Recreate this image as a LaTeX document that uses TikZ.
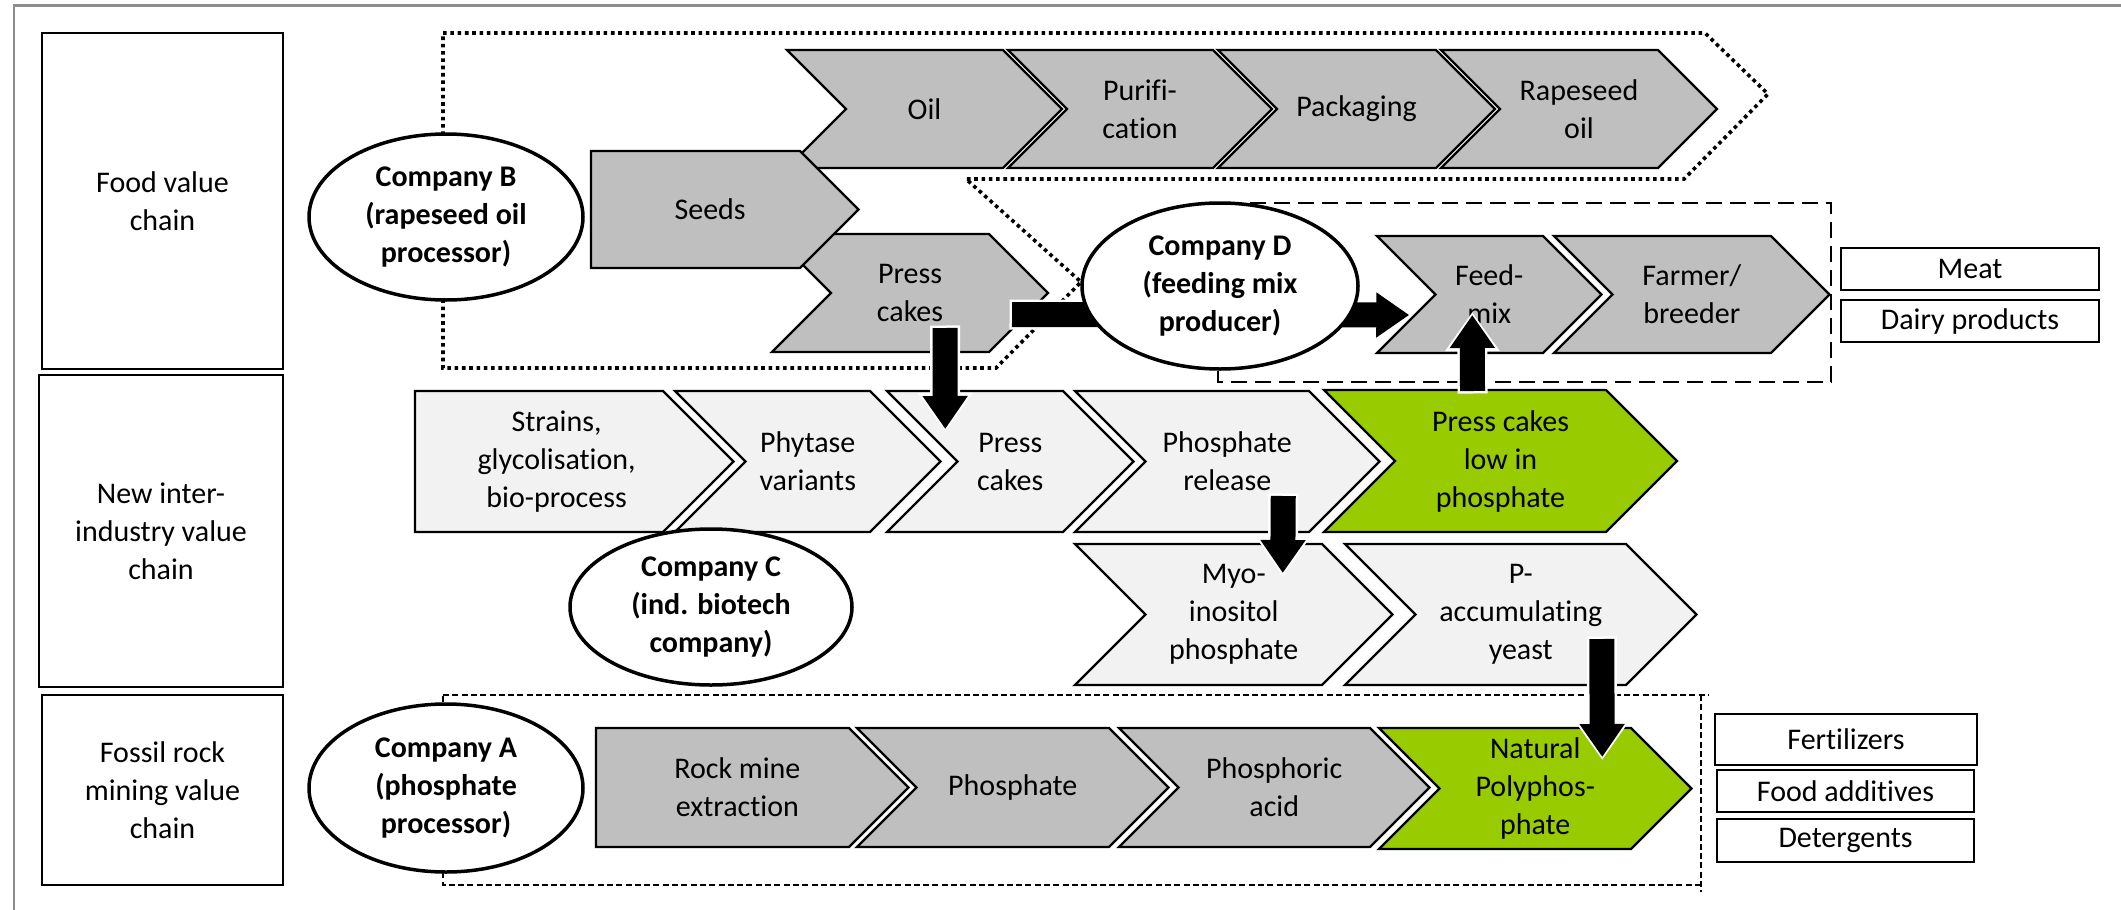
\documentclass[tikz,border=0pt]{standalone}
\usepackage{fontspec}
\setmainfont{Carlito}[Ligatures=NoCommon]
\usetikzlibrary{arrows.meta,calc,shapes.geometric}

\definecolor{stagedark}{HTML}{BFBFBF}
\definecolor{stagelight}{HTML}{F2F2F2}
\definecolor{stagegreen}{HTML}{99CC00}
\definecolor{framegray}{HTML}{8C8C8C}

% One stage of a value chain: a chevron with its label.
% #1 node name, #2 style, #3 left x, #4 top y, #5 right end of the top edge,
% #6 height, #7 1 = notched tail / 0 = flat tail, #8 label
\newcommand{\valuestage}[8]{%
  \pgfmathsetmacro{\vsTip}{#5+#6/2}%
  \pgfmathsetmacro{\vsMid}{#4+#6/2}%
  \pgfmathsetmacro{\vsBot}{#4+#6}%
  \pgfmathsetmacro{\vsNotch}{#3+#7*#6/2}%
  \pgfmathsetmacro{\vsCx}{(#3+#7*#6/4+#5+#6/4)/2}%
  \path[#2] (#3,#4) -- (#5,#4) -- (\vsTip,\vsMid) -- (#5,\vsBot) -- (#3,\vsBot) -- (\vsNotch,\vsMid) -- cycle;
  \node[stagetext] (#1) at (\vsCx,\vsMid) {#8};
}

% Thick block arrow with a thin white rim
\newcommand{\flowarrow}[2]{%
  \draw[flowhalo] #1 -- #2;
  \draw[flow] #1 -- #2;
}

\begin{document}
\begin{tikzpicture}[x=1pt,y=-1pt,
  stagetext/.style={align=center, inner sep=0pt, font=\fontsize{30}{38}\selectfont},
  darkstage/.style={draw=black, line width=2.3pt, fill=stagedark},
  lightstage/.style={draw=black, line width=2.3pt, fill=stagelight},
  greenstage/.style={draw=black, line width=2.3pt, fill=stagegreen},
  chainlabel/.style={draw=black, line width=2.5pt, align=center, inner sep=0pt, font=\fontsize{30}{38}\selectfont},
  productbox/.style={draw=black, line width=2.5pt, inner sep=0pt, font=\fontsize{30}{38}\selectfont},
  company/.style={ellipse, draw=black, line width=3.5pt, fill=white, align=center, inner sep=0pt, font=\bfseries\fontsize{30}{38}\selectfont},
  dotregion/.style={line width=3.6pt, dash pattern=on 3.6pt off 3.7pt},
  longdashregion/.style={line width=2.5pt, dash pattern=on 16pt off 8pt},
  finedashregion/.style={line width=2pt, dash pattern=on 6pt off 3.3pt},
  flow/.style={black, line width=25pt, -{Triangle[width=43pt,length=33pt]}},
  flowhalo/.style={white, line width=30pt, shorten >=-3pt, shorten <=-2.5pt, -{Triangle[width=52pt,length=39pt]}},
]
\useasboundingbox (0,0) rectangle (2121,910);

% page frame
\draw[framegray, line width=2.5pt] (14,910) -- (14,5.5) -- (2121,5.5);

% chain labels
\node[chainlabel, minimum width=241pt, minimum height=336pt] (foodlabel) at (162.5,201) {Food value\\chain};
\node[chainlabel, minimum width=244pt, minimum height=312pt] (newlabel) at (161,531) {New inter-\\industry value\\chain};
\node[chainlabel, minimum width=241pt, minimum height=190pt] (fossillabel) at (162.5,790) {Fossil rock\\mining value\\chain};

% food value chain
\valuestage{oil}{darkstage}{787}{50}{1003}{118}{1}{Oil}
\valuestage{purif}{darkstage}{1008}{50}{1213}{118}{1}{Purifi-\\cation}
\valuestage{pack}{darkstage}{1218}{50}{1436}{118}{1}{Packaging}
\valuestage{rape}{darkstage}{1441}{50}{1658}{118}{1}{Rapeseed\\oil}
\valuestage{pcA}{darkstage}{772}{234}{989}{118}{1}{Press\\cakes}
\valuestage{seeds}{darkstage}{591}{151}{800}{117}{0}{Seeds}
\valuestage{feed}{darkstage}{1377}{236}{1543}{117}{1}{Feed-\\mix}
\valuestage{farmer}{darkstage}{1554}{236}{1771}{117}{1}{Farmer/\\breeder}

% new inter-industry value chain
\valuestage{strains}{lightstage}{415}{391}{663}{141}{0}{Strains,\\glycolisation,\\bio-process}
\valuestage{phytase}{lightstage}{675}{391}{870}{141}{1}{Phytase\\variants}
\valuestage{pcB}{lightstage}{887}{391}{1063}{141}{1}{Press\\cakes}
\valuestage{release}{lightstage}{1075}{391}{1309}{141}{1}{Phosphate\\release}
\valuestage{lowp}{greenstage}{1324}{390}{1606}{142}{1}{Press cakes\\low in\\phosphate}
\valuestage{myo}{lightstage}{1075}{544}{1322}{141}{1}{Myo-\\inositol\\phosphate}
\valuestage{pacc}{lightstage}{1345}{544}{1626}{141}{1}{P-\\accumulating\\yeast}

% fossil rock mining value chain
\valuestage{rock}{darkstage}{596}{728}{849}{119}{0}{Rock mine\\extraction}
\valuestage{phos}{darkstage}{857}{728}{1109}{119}{1}{Phosphate}
\valuestage{acid}{darkstage}{1119}{728}{1370}{119}{1}{Phosphoric\\acid}
\valuestage{natural}{greenstage}{1379}{728}{1631}{121}{1}{Natural\\Polyphos-\\phate}

% end products
\node[productbox, minimum width=258pt, minimum height=42pt] (meat) at (1970,269) {Meat};
\node[productbox, minimum width=258pt, minimum height=42pt] (dairy) at (1970,321) {Dairy products};
\node[productbox, minimum width=262pt, minimum height=51pt] (fert) at (1846,739.5) {Fertilizers};
\node[productbox, minimum width=257pt, minimum height=42pt] (additives) at (1845.5,791) {Food additives};
\node[productbox, minimum width=257pt, minimum height=43pt] (deterg) at (1845.5,840.5) {Detergents};

% company scopes
\draw[dotregion] (443,33) -- (1705,33) -- (1768,94) -- (1684,179) -- (966,179)
  -- (1081,282) -- (996,368) -- (443,368) -- cycle;
\draw[longdashregion] (1218,203) rectangle (1831,382);
\draw[finedashregion] (443,695) -- (1709,695);
\draw[finedashregion] (1701,695) -- (1701,892);
\draw[finedashregion] (1701,885) -- (443,885) -- (443,695);

% material flows
\flowarrow{($(pcA)+(102,21.5)$)}{($(feed)+(-80,20.5)$)}
\flowarrow{($(pcA)+(35,35)$)}{($(pcB)+(-65,-32.5)$)}
\flowarrow{($(release)+(56,34.5)$)}{($(myo)+(49,-41.5)$)}
\flowarrow{($(lowp)+(-28,-70)$)}{($(feed)+(-17,20.5)$)}
\flowarrow{($(pacc)+(81,24.5)$)}{($(natural)+(67,-31.5)$)}

% companies
\node[company, minimum width=274pt, minimum height=166pt] (compB) at (446,217) {Company B\\(rapeseed oil\\processor)};
\node[company, minimum width=276pt, minimum height=166pt] (compD) at (1220,286) {Company D\\(feeding mix\\producer)};
\node[company, minimum width=282pt, minimum height=156pt] (compC) at (711,607) {Company C\\(ind. biotech\\company)};
\node[company, minimum width=274pt, minimum height=168pt] (compA) at (446,788) {Company A\\(phosphate\\processor)};

\end{tikzpicture}
\end{document}
